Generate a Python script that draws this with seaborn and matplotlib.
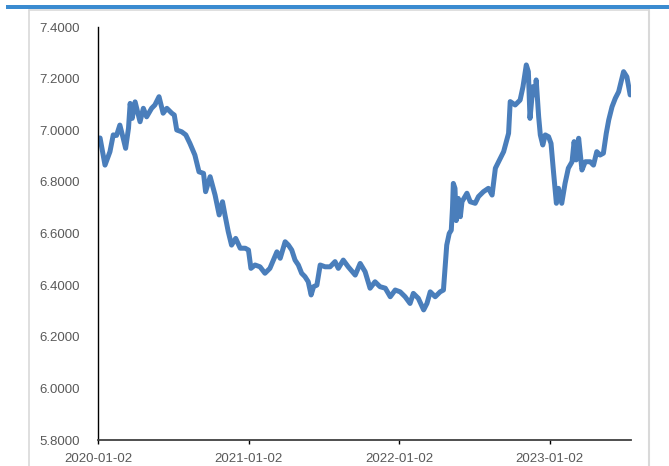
import matplotlib
matplotlib.use("Agg")
import matplotlib.pyplot as plt
import matplotlib.dates as mdates
from matplotlib.lines import Line2D
from matplotlib.patches import Rectangle
import pandas as pd
import seaborn as sns

dates = [
    "2020-01-02", "2020-01-07", "2020-01-19", "2020-01-31", "2020-02-08", "2020-02-16",
    "2020-02-24", "2020-03-03", "2020-03-09", "2020-03-16", "2020-03-20", "2020-03-25",
    "2020-04-01", "2020-04-13", "2020-04-21", "2020-04-29", "2020-05-11", "2020-05-19",
    "2020-05-29", "2020-06-08", "2020-06-17", "2020-06-29", "2020-07-05", "2020-07-11",
    "2020-07-23", "2020-08-02", "2020-08-12", "2020-08-24", "2020-09-03", "2020-09-14",
    "2020-09-19", "2020-09-30", "2020-10-12", "2020-10-22", "2020-10-30", "2020-11-05",
    "2020-11-13", "2020-11-21", "2020-12-01", "2020-12-12", "2020-12-24", "2021-01-01",
    "2021-01-07", "2021-01-17", "2021-01-29", "2021-02-10", "2021-02-22", "2021-03-11",
    "2021-03-19", "2021-03-31", "2021-04-08", "2021-04-16", "2021-04-24", "2021-05-02",
    "2021-05-10", "2021-05-18", "2021-05-26", "2021-06-02", "2021-06-08", "2021-06-16",
    "2021-06-24", "2021-07-06", "2021-07-18", "2021-07-30", "2021-08-07", "2021-08-19",
    "2021-08-31", "2021-09-17", "2021-09-29", "2021-10-11", "2021-10-23", "2021-11-04",
    "2021-11-16", "2021-11-29", "2021-12-11", "2021-12-23", "2022-01-04", "2022-01-16",
    "2022-01-28", "2022-02-05", "2022-02-17", "2022-03-02", "2022-03-10", "2022-03-18",
    "2022-03-30", "2022-04-11", "2022-04-19", "2022-04-27", "2022-05-03", "2022-05-08",
    "2022-05-11", "2022-05-13", "2022-05-17", "2022-05-20", "2022-05-25", "2022-05-30",
    "2022-06-03", "2022-06-15",
    "2022-06-23", "2022-07-05", "2022-07-13", "2022-07-25", "2022-08-06", "2022-08-15",
    "2022-08-23", "2022-09-04", "2022-09-12", "2022-09-24", "2022-09-28", "2022-10-10",
    "2022-10-22", "2022-10-29", "2022-11-06", "2022-11-11", "2022-11-15", "2022-11-22",
    "2022-11-28", "2022-11-30", "2022-12-06", "2022-12-10", "2022-12-16", "2022-12-22",
    "2022-12-30", "2023-01-05", "2023-01-11", "2023-01-18", "2023-01-23", "2023-01-31",
    "2023-02-08", "2023-02-16", "2023-02-25", "2023-03-02", "2023-03-07", "2023-03-13",
    "2023-03-21", "2023-03-29", "2023-04-10", "2023-04-18", "2023-04-26", "2023-05-04",
    "2023-05-12", "2023-05-19", "2023-05-25", "2023-06-02", "2023-06-10", "2023-06-18",
    "2023-06-26", "2023-06-30", "2023-07-08", "2023-07-16",
]
rates = [
    6.969, 6.970, 6.865, 6.917, 6.982, 6.980,
    7.020, 6.970, 6.930, 7.008, 7.104, 7.046,
    7.110, 7.033, 7.085, 7.052, 7.085, 7.098,
    7.130, 7.066, 7.085, 7.066, 7.059, 7.001,
    6.994, 6.982, 6.949, 6.904, 6.839, 6.833,
    6.762, 6.820, 6.749, 6.672, 6.723, 6.672,
    6.607, 6.555, 6.581, 6.543, 6.543, 6.536,
    6.465, 6.478, 6.471, 6.446, 6.465, 6.529,
    6.504, 6.568, 6.555, 6.536, 6.497, 6.478,
    6.446, 6.433, 6.413, 6.362, 6.394, 6.400,
    6.478, 6.471, 6.471, 6.491, 6.465, 6.497,
    6.471, 6.439, 6.484, 6.452, 6.388, 6.413,
    6.394, 6.388, 6.355, 6.381, 6.374, 6.355,
    6.329, 6.368, 6.349, 6.304, 6.329, 6.374,
    6.355, 6.374, 6.381, 6.555, 6.600, 6.613,
    6.700, 6.794, 6.775, 6.650, 6.736, 6.665,
    6.723, 6.756,
    6.723, 6.717, 6.743, 6.762, 6.775, 6.749,
    6.853, 6.891, 6.917, 6.988, 7.111, 7.098,
    7.117, 7.169, 7.253, 7.227, 7.046, 7.169,
    7.137, 7.195, 7.052, 6.982, 6.943, 6.982,
    6.975, 6.949, 6.839, 6.717, 6.775, 6.717,
    6.794, 6.853, 6.878, 6.956, 6.885, 6.969,
    6.846, 6.878, 6.878, 6.865, 6.917, 6.904,
    6.911, 6.988, 7.040, 7.091, 7.124, 7.149,
    7.201, 7.227, 7.207, 7.137,
]
x_ticks = ["2020-01-02", "2021-01-02", "2022-01-02", "2023-01-02"]
y_ticks = [5.8, 6.0, 6.2, 6.4, 6.6, 6.8, 7.0, 7.2, 7.4]

df = pd.DataFrame({"date": pd.to_datetime(dates), "rate": rates})

sns.set_style("white")
plt.rcParams["font.family"] = ["Liberation Sans", "DejaVu Sans"]

fig = plt.figure(figsize=(6.69, 4.66), dpi=100)
ax = fig.add_axes([98 / 669, 1 - 440 / 466, (631 - 98) / 669, (440 - 27) / 466])

sns.lineplot(data=df, x="date", y="rate", ax=ax, color="#4a7ebb", linewidth=3.6)
for ln in ax.lines:
    ln.set_solid_capstyle("round")
    ln.set_solid_joinstyle("round")

ax.set_ylim(5.8, 7.4)
ax.set_yticks(y_ticks)
ax.set_yticklabels([f"{v:.4f}" for v in y_ticks])
ax.set_xlim(pd.Timestamp("2020-01-02"), pd.Timestamp("2023-07-18"))
ax.set_xticks(pd.to_datetime(x_ticks))
ax.xaxis.set_major_formatter(mdates.DateFormatter("%Y-%m-%d"))
ax.set_xlabel("")
ax.set_ylabel("")

for side in ["top", "right"]:
    ax.spines[side].set_visible(False)
ax.spines["left"].set_color("black")
ax.spines["left"].set_linewidth(1.0)
ax.spines["bottom"].set_color("#404040")
ax.spines["bottom"].set_linewidth(1.3)

ax.tick_params(axis="y", length=0, pad=13, labelsize=9.5, labelcolor="#595959")
ax.tick_params(axis="x", direction="out", length=3, width=1, color="black",
               pad=6, labelsize=9.5, labelcolor="#595959", bottom=True)
ax.grid(False)

# chart frame and top band
W, H = 669, 466
fig.add_artist(Line2D([29 / W, 29 / W], [0, 1 - 10 / H], color="#d9d9d9", linewidth=1.2,
                      transform=fig.transFigure))
fig.add_artist(Line2D([649 / W, 649 / W], [0, 1 - 10 / H], color="#d9d9d9", linewidth=1.5,
                      transform=fig.transFigure))
fig.add_artist(Line2D([29 / W, 649 / W], [1 - 10 / H, 1 - 10 / H], color="#d9d9d9", linewidth=1.2,
                      transform=fig.transFigure))
fig.add_artist(Rectangle((6 / W, 1 - 9 / H), 1 - 6 / W, 4 / H, transform=fig.transFigure,
                         facecolor="#3a8bd0", edgecolor="none"))

fig.savefig("out.png", dpi=100, facecolor="white")
